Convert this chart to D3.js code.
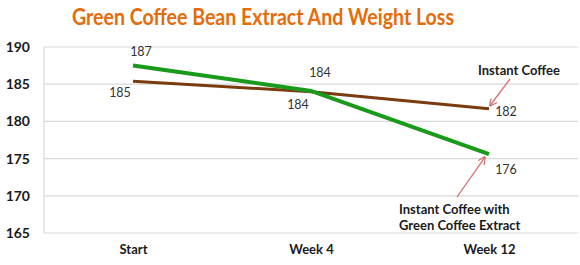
<!DOCTYPE html>
<html>
<head>
<meta charset="utf-8">
<script src="https://cdn.jsdelivr.net/npm/d3@7"></script>
<style>
  body { margin: 0; background: #fff; }
  text { font-family: Lato, "Open Sans", sans-serif; }
</style>
</head>
<body>
<div id="chart"></div>
<script>
// data
const categories = ["Start", "Week 4", "Week 12"];
const instantCoffee = [185.4, 184.0, 181.7];
const greenExtract = [187.5, 184.1, 175.6];
const instantLabels = ["185", "184", "182"];
const greenLabels = ["187", "184", "176"];
const yTicks = [165, 170, 175, 180, 185, 190];

const width = 580, height = 265;
const margin = {top: 47, right: 2, bottom: 32, left: 44};
const innerW = width - margin.left - margin.right;
const innerH = height - margin.top - margin.bottom;

const svg = d3.select("#chart").append("svg")
    .attr("width", width)
    .attr("height", height);

// title, squeezed to the width it has in the picture
const title = svg.append("text")
    .attr("x", 263)
    .attr("y", 25)
    .attr("text-anchor", "middle")
    .style("font-size", "23px")
    .style("font-weight", "bold")
    .style("fill", "#e46c0a")
    .text("Green Coffee Bean Extract And Weight Loss");
const tl = title.node().getComputedTextLength();
if (tl > 382) title.attr("textLength", 382).attr("lengthAdjust", "spacingAndGlyphs");

const g = svg.append("g")
    .attr("transform", `translate(${margin.left}, ${margin.top})`);

const x = d3.scalePoint()
    .domain(categories)
    .range([0, innerW])
    .padding(0.5);

const y = d3.scaleLinear()
    .domain([165, 190])
    .range([innerH, 0]);

// gridlines
g.selectAll(".grid")
  .data(yTicks)
  .join("line")
    .attr("x1", 0)
    .attr("x2", innerW)
    .attr("y1", d => y(d))
    .attr("y2", d => y(d))
    .attr("stroke", "#d9d9d9")
    .attr("stroke-width", 1.2);

// left axis line
g.append("line")
    .attr("x1", 0).attr("x2", 0)
    .attr("y1", 0).attr("y2", innerH)
    .attr("stroke", "#d9d9d9")
    .attr("stroke-width", 1.2);

// y axis labels
const yAxis = g.append("g")
    .call(d3.axisLeft(y).tickValues(yTicks).tickSize(0).tickPadding(14));
yAxis.select(".domain").remove();
yAxis.selectAll("text")
    .style("font-size", "14px")
    .style("font-weight", "bold")
    .style("fill", "#1a1a1a")
    .style("font-family", "Lato, sans-serif");

// x axis labels
const xAxis = g.append("g")
    .attr("transform", `translate(0, ${innerH})`)
    .call(d3.axisBottom(x).tickSize(0).tickPadding(12));
xAxis.select(".domain").remove();
xAxis.selectAll("text")
    .style("font-size", "13px")
    .style("font-weight", "bold")
    .style("fill", "#1a1a1a")
    .style("font-family", "Lato, sans-serif");

// lines
const line = d3.line()
    .x((d, i) => x(categories[i]))
    .y(d => y(d));

g.append("path")
    .attr("d", line(instantCoffee))
    .attr("fill", "none")
    .attr("stroke", "#7a3b0f")
    .attr("stroke-width", 3);

g.append("path")
    .attr("d", line(greenExtract))
    .attr("fill", "none")
    .attr("stroke", "#1a9a1a")
    .attr("stroke-width", 4);

// data labels
const greenOffsets = [[8, -10], [9, -14], [17, 20]];
const instantOffsets = [[-13, 16], [-13, 17], [17, 7]];

g.selectAll(".glab")
  .data(greenExtract)
  .join("text")
    .attr("x", (d, i) => x(categories[i]) + greenOffsets[i][0])
    .attr("y", (d, i) => y(d) + greenOffsets[i][1])
    .attr("text-anchor", "middle")
    .style("font-size", "12.5px")
    .style("fill", "#333")
    .style("font-family", "Lato, sans-serif")
    .text((d, i) => greenLabels[i]);

g.selectAll(".ilab")
  .data(instantCoffee)
  .join("text")
    .attr("x", (d, i) => x(categories[i]) + instantOffsets[i][0])
    .attr("y", (d, i) => y(d) + instantOffsets[i][1])
    .attr("text-anchor", "middle")
    .style("font-size", "12.5px")
    .style("fill", "#333")
    .style("font-family", "Lato, sans-serif")
    .text((d, i) => instantLabels[i]);

// annotations with arrows
svg.append("defs").append("marker")
    .attr("id", "arrow")
    .attr("viewBox", "0 0 10 10")
    .attr("refX", 9).attr("refY", 5)
    .attr("markerWidth", 6).attr("markerHeight", 6)
    .attr("orient", "auto-start-reverse")
  .append("path")
    .attr("d", "M0,0 L10,5 L0,10")
    .attr("fill", "none")
    .attr("stroke", "#d36f72")
    .attr("stroke-width", 1.6);

const lastX = x(categories[2]) + margin.left;

svg.append("line")
    .attr("x1", 510).attr("y1", 79)
    .attr("x2", lastX + 1).attr("y2", y(instantCoffee[2]) + margin.top - 3)
    .attr("stroke", "#d36f72")
    .attr("stroke-width", 1.3)
    .attr("marker-end", "url(#arrow)");

svg.append("line")
    .attr("x1", 457).attr("y1", 197)
    .attr("x2", lastX - 4).attr("y2", y(greenExtract[2]) + margin.top + 3)
    .attr("stroke", "#d36f72")
    .attr("stroke-width", 1.3)
    .attr("marker-end", "url(#arrow)");

svg.append("text")
    .attr("x", 478).attr("y", 75)
    .style("font-size", "13px")
    .style("font-weight", "bold")
    .style("fill", "#1a1a1a")
    .text("Instant Coffee");

svg.append("text")
    .attr("x", 399).attr("y", 214)
    .style("font-size", "13px")
    .style("font-weight", "bold")
    .style("fill", "#1a1a1a")
    .text("Instant Coffee with");

svg.append("text")
    .attr("x", 399).attr("y", 230)
    .style("font-size", "13px")
    .style("font-weight", "bold")
    .style("fill", "#1a1a1a")
    .text("Green Coffee Extract");
</script>
</body>
</html>
